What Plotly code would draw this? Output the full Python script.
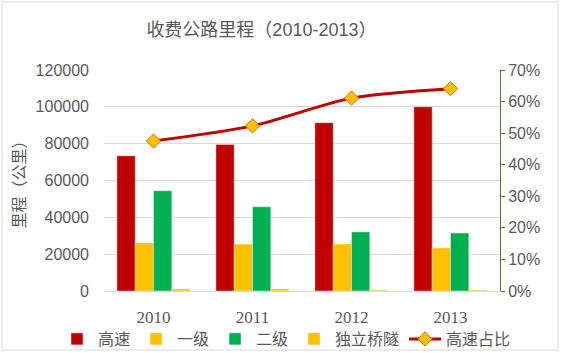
import plotly.graph_objects as go

years = ["2010", "2011", "2012", "2013"]
gaosu = [73400, 79500, 91400, 100000]
yiji = [26100, 25500, 25500, 23400]
erji = [54400, 45700, 32100, 31500]
qiaosui = [1100, 1100, 500, 500]
share = [0.475, 0.523, 0.611, 0.641]

W, H = 561, 353
ML, MR, MT, MB = 104, 61, 70, 62
pw, ph = W - ML - MR, H - MT - MB

txt = "#595959"
cjk = "Noto Sans CJK SC"
sans = "Liberation Sans, " + cjk
serif = "Liberation Serif, " + cjk

fig = go.Figure()
fig.add_bar(x=years, y=gaosu, name="高速", marker_color="#c00000")
fig.add_bar(x=years, y=yiji, name="一级", marker_color="#ffc000")
fig.add_bar(x=years, y=erji, name="二级", marker_color="#00b050")
fig.add_bar(x=years, y=qiaosui, name="独立桥隧", marker_color="#ffc000")
fig.add_scatter(x=years, y=share, name="高速占比", yaxis="y2",
                mode="lines+markers",
                line=dict(color="#c00000", width=3, shape="spline", smoothing=0.8),
                marker=dict(symbol="diamond", size=11, color="#ffc000",
                            line=dict(color="#e46c0a", width=1)))

fig.update_layout(
    width=W, height=H,
    margin=dict(l=ML, r=MR, t=MT, b=MB, autoexpand=False),
    paper_bgcolor="white", plot_bgcolor="white",
    barmode="group", bargap=0.26, bargroupgap=0,
    font=dict(family=sans, color=txt, size=16),
    title=dict(text="收费公路里程（2010-2013）", x=0.466, xanchor="center",
               y=1 - 30 / H, yanchor="middle",
               font=dict(family=sans, size=18, color=txt)),
    xaxis=dict(showgrid=False, showline=True, linecolor="#d9d9d9", linewidth=1,
               ticks="", tickfont=dict(family=serif, size=17, color=txt),
               ticklabelstandoff=11),
    yaxis=dict(range=[0, 120000], dtick=20000, showgrid=True, gridcolor="#d9d9d9",
               gridwidth=1, zeroline=False, showline=False, ticks="",
               tickformat="d", ticklabelstandoff=14,
               tickfont=dict(family=sans, size=16, color=txt),
               title=dict(text="里程（公里）", standoff=6,
                          font=dict(family=cjk, size=16, color=txt))),
    yaxis2=dict(range=[0, 0.7], dtick=0.1, tickformat=".0%", overlaying="y",
                side="right", showgrid=False, zeroline=False, showline=True,
                linecolor="#4f7a28", linewidth=1, ticks="outside", ticklen=4,
                tickcolor="#4f7a28", tickfont=dict(family=sans, size=16, color=txt)),
    legend=dict(orientation="h", x=(56 - ML) / pw, xanchor="left",
                y=(0 - (339 - (MT + ph))) / ph, yanchor="middle",
                font=dict(family=cjk, size=16, color=txt),
                itemwidth=32, bgcolor="rgba(0,0,0,0)", tracegroupgap=0),
    showlegend=True,
)

fig.add_shape(type="rect", xref="paper", yref="paper", layer="below",
              x0=(2 - ML) / pw, x1=(W - 3 - ML) / pw,
              y0=-(H - 3 - MT - ph) / ph, y1=1 + (MT - 2) / ph,
              line=dict(color="#d9d9d9", width=1))

fig.write_html("out.html")
